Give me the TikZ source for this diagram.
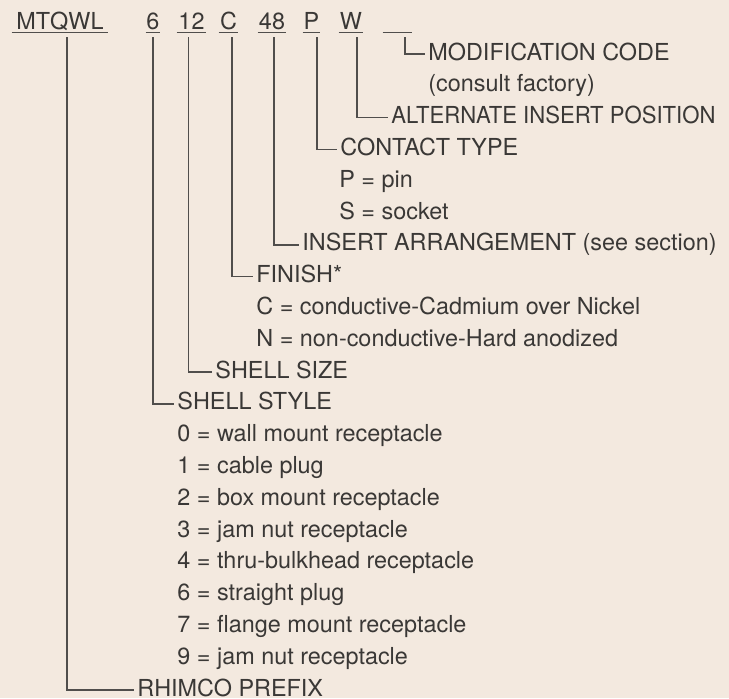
\documentclass[tikz,border=0pt]{standalone}
\usepackage{graphicx}
\usepackage{fontspec}
\setmainfont{TeX Gyre Heros}
\usetikzlibrary{positioning}
\definecolor{paper}{RGB}{243,233,223}
\definecolor{ink}{RGB}{58,56,54}
\definecolor{rule}{RGB}{80,78,76}

\begin{document}
\begin{tikzpicture}[
    x=0.5pt, y=-0.5pt,
    every node/.style={font=\fontsize{11.7}{14}\selectfont, text=ink},
    code/.style={anchor=base, inner xsep=0pt, inner ysep=1.5pt, text height=8pt, text depth=0pt},
    uline/.style={draw=rule, line width=0.8pt},
    lbl/.style={anchor=base west, inner xsep=1.5pt, inner ysep=0pt, text height=6pt, text depth=0pt},
    lead/.style={draw=rule, line width=0.8pt}
]
    \useasboundingbox (0,0) rectangle (729,698);
    \fill[paper] (0,0) rectangle (729,698);

    % Part number
    \node[code, minimum width=48pt] (cPrefix) at (60,29) {MTQWL};
    \node[code, minimum width=7pt] (cStyle) at (153,29) {6};
    \node[code, minimum width=14.5pt] (cSize) at (191.5,29) {12};
    \node[code, minimum width=9.5pt] (cFinish) at (228.5,29) {C};
    \node[code, minimum width=14pt] (cInsert) at (272,29) {48};
    \node[code, minimum width=8.5pt] (cContact) at (311.5,29) {P};
    \node[code, minimum width=12pt] (cAlt) at (351,29) {W};
    \node[code, minimum width=14.5pt] (cMod) at (397.5,29) {};

    \draw[uline] (cPrefix.south west) -- (cPrefix.south east);
    \draw[uline] (cStyle.south west) -- (cStyle.south east);
    \draw[uline] (cSize.south west) -- (cSize.south east);
    \draw[uline] (cFinish.south west) -- (cFinish.south east);
    \draw[uline] (cInsert.south west) -- (cInsert.south east);
    \draw[uline] (cContact.south west) -- (cContact.south east);
    \draw[uline] (cAlt.south west) -- (cAlt.south east);
    \draw[uline] (cMod.south west) -- (cMod.south east);

    % Explanations
    \node[lbl] (lMod) at (425,60) {MODIFICATION CODE};
    \node[lbl] (lModNote) at (425,91.8) {(consult factory)};
    \node[lbl] (lAlt) at (388,123.6) {\scalebox{0.945}[1]{ALTERNATE INSERT POSITION}};
    \node[lbl] (lContact) at (337,155.4) {CONTACT TYPE};
    \node[lbl] (lContactP) at (336,187.2) {P = pin};
    \node[lbl] (lContactS) at (336,219) {S = socket};
    \node[lbl] (lInsert) at (299,250.8) {INSERT ARRANGEMENT (see section)};
    \node[lbl] (lFinish) at (253,282.6) {FINISH*};
    \node[lbl] (lFinishC) at (253,314.4) {C = conductive-Cadmium over Nickel};
    \node[lbl] (lFinishN) at (253,346.2) {N = non-conductive-Hard anodized};
    \node[lbl] (lSize) at (212,378) {SHELL SIZE};
    \node[lbl] (lStyle) at (174,409.8) {SHELL STYLE};
    \node[lbl] (lStyle0) at (174,441.6) {0 = wall mount receptacle};
    \node[lbl] (lStyle1) at (174,473.4) {1 = cable plug};
    \node[lbl] (lStyle2) at (174,505.2) {2 = box mount receptacle};
    \node[lbl] (lStyle3) at (174,537) {3 = jam nut receptacle};
    \node[lbl] (lStyle4) at (174,568.8) {4 = thru-bulkhead receptacle};
    \node[lbl] (lStyle6) at (174,600.6) {6 = straight plug};
    \node[lbl] (lStyle7) at (174,632.4) {7 = flange mount receptacle};
    \node[lbl] (lStyle9) at (174,664.2) {9 = jam nut receptacle};
    \node[lbl] (lPrefix) at (134,696) {RHIMCO PREFIX};

    % Leaders
    \draw[lead] ([xshift=3.75pt,yshift=-2.5pt]cMod.south) |- (lMod.west);
    \draw[lead] ([xshift=3pt,yshift=-2.5pt]cAlt.south) |- (lAlt.west);
    \draw[lead] ([xshift=2.75pt,yshift=-2.5pt]cContact.south) |- (lContact.west);
    \draw[lead] ([xshift=1pt,yshift=-2.5pt]cInsert.south) |- (lInsert.west);
    \draw[lead] ([xshift=1.75pt,yshift=-2.5pt]cFinish.south) |- (lFinish.west);
    \draw[lead] ([xshift=-1.5pt,yshift=-2.5pt]cSize.south) |- (lSize.west);
    \draw[lead] ([yshift=-2.5pt]cStyle.south) |- (lStyle.west);
    \draw[lead] ([xshift=3.5pt,yshift=-2.5pt]cPrefix.south) |- (lPrefix.west);
\end{tikzpicture}
\end{document}
